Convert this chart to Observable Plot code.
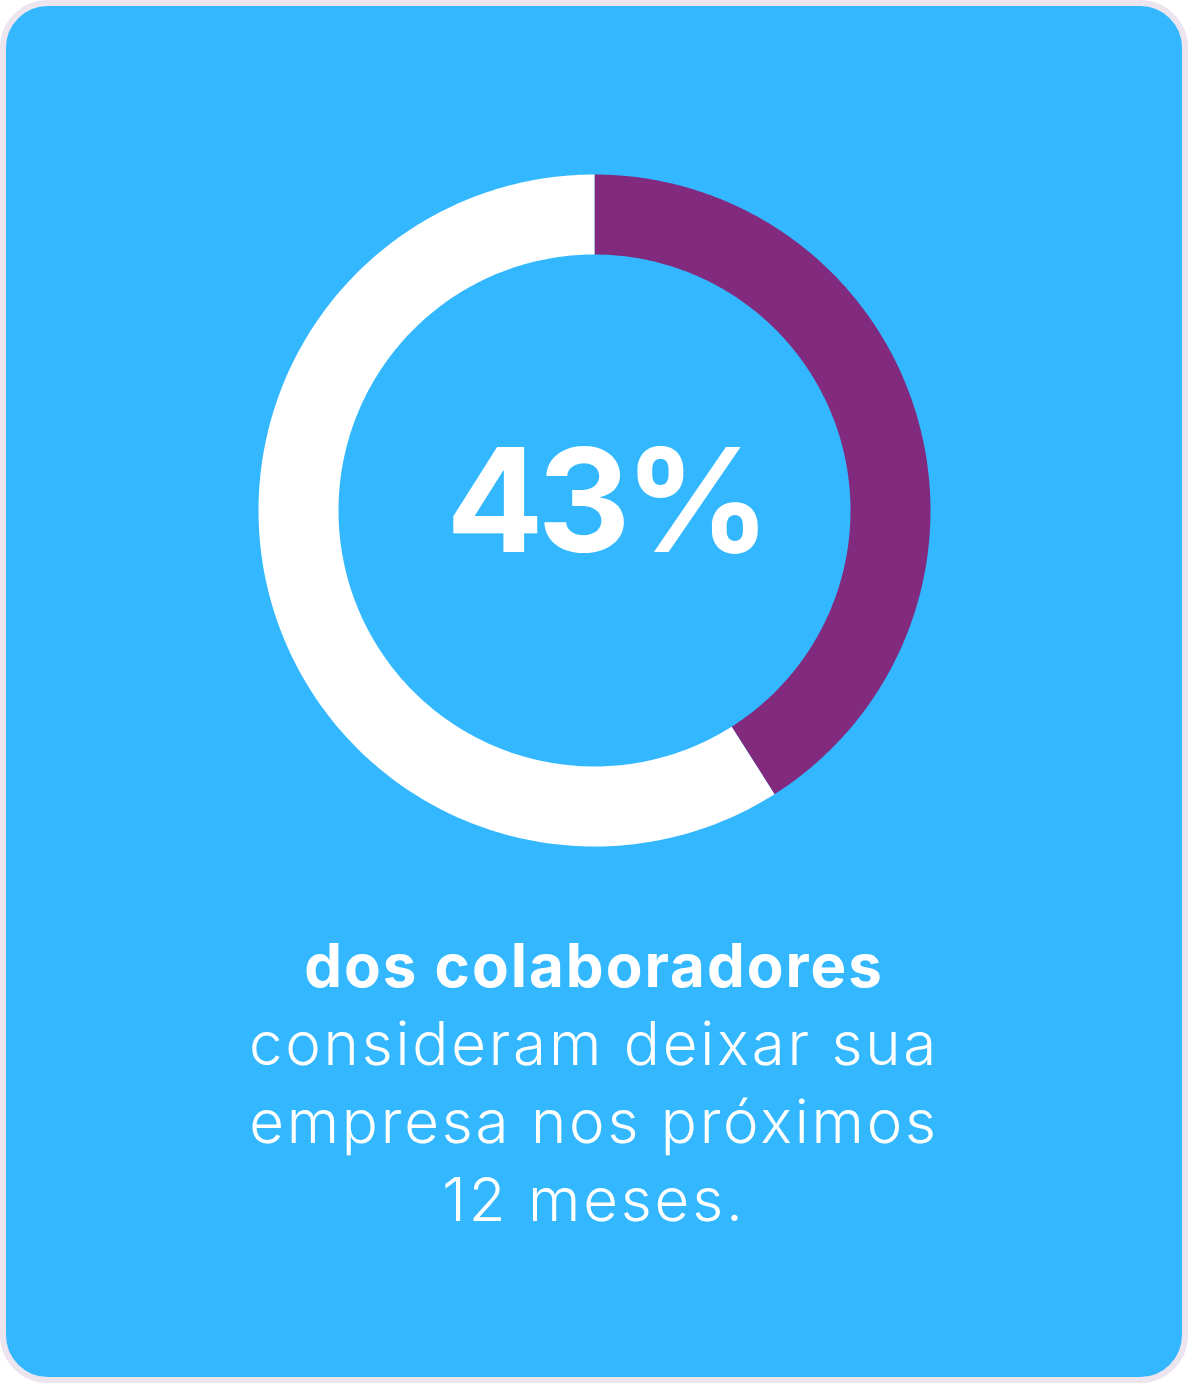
<!DOCTYPE html>
<html>
<head>
<meta charset="utf-8">
<script src="https://cdn.jsdelivr.net/npm/d3@7"></script>
<script src="https://cdn.jsdelivr.net/npm/@observablehq/plot@0.6"></script>
<style>
  html, body { margin: 0; padding: 0; background: #ffffff; }
  body { width: 1188px; height: 1383px; position: relative; font-family: Inter, "Open Sans", sans-serif; }
  #card {
    position: absolute; left: 0; top: 0; width: 1188px; height: 1383px;
    box-sizing: border-box; border: 6px solid #ece4ee; border-radius: 48px;
    background: #33b8ff; overflow: hidden;
  }
  #chart { position: absolute; left: 258px; top: 174px; }
  #chart text { letter-spacing: -6px; }
  #caption {
    position: absolute; left: 0; top: 926px; width: 1188px; text-align: center;
    color: #ffffff; font-size: 60px; line-height: 78px; font-weight: 300; letter-spacing: 2.8px;
  }
  #caption .b { font-weight: 700; letter-spacing: 2px; }
</style>
</head>
<body>
<div id="card"></div>
<div id="chart"></div>
<div id="caption"></div>
<script>
// ---- data ----
const slices = ["consideram deixar", "demais"];
const values = [41, 59];
const sliceColors = ["#812a7e", "#ffffff"];
const centerLabel = ["43%"];
const captionBold = "dos colaboradores";
const captionLines = ["consideram deixar sua", "empresa nos próximos", "12 meses."];

// ---- build arc outlines (unit radius) from the values ----
const innerRatio = 256 / 336;
const arcs = d3.pie().sort(null)(values);
const rows = [];
arcs.forEach((a, i) => {
  const n = 240;
  const outer = [], inner = [];
  for (let k = 0; k <= n; k++) {
    const t = a.startAngle + (a.endAngle - a.startAngle) * k / n;
    outer.push({slice: slices[i], x: Math.sin(t), y: Math.cos(t)});
    inner.push({slice: slices[i], x: innerRatio * Math.sin(t), y: innerRatio * Math.cos(t)});
  }
  rows.push(...outer, ...inner.reverse());
});

const chart = Plot.plot({
  width: 672,
  height: 672,
  margin: 0,
  x: {domain: [-1, 1], axis: null},
  y: {domain: [-1, 1], axis: null},
  color: {domain: slices, range: sliceColors},
  style: {background: "transparent", overflow: "visible"},
  marks: [
    Plot.line(rows, {x: "x", y: "y", z: "slice", fill: "slice", stroke: "none", curve: "linear-closed"}),
    Plot.text(centerLabel, {x: () => 0, y: () => 0, text: d => d, fill: "#ffffff",
      fontSize: 144, fontWeight: 700, fontFamily: "Inter, sans-serif",
      textAnchor: "middle", lineAnchor: "bottom", dy: 41, dx: 11})
  ]
});
document.getElementById("chart").appendChild(chart);

const cap = document.getElementById("caption");
const b = document.createElement("div");
b.className = "b";
b.textContent = captionBold;
cap.appendChild(b);
captionLines.forEach(l => {
  const d = document.createElement("div");
  d.textContent = l;
  cap.appendChild(d);
});
</script>
</body>
</html>
